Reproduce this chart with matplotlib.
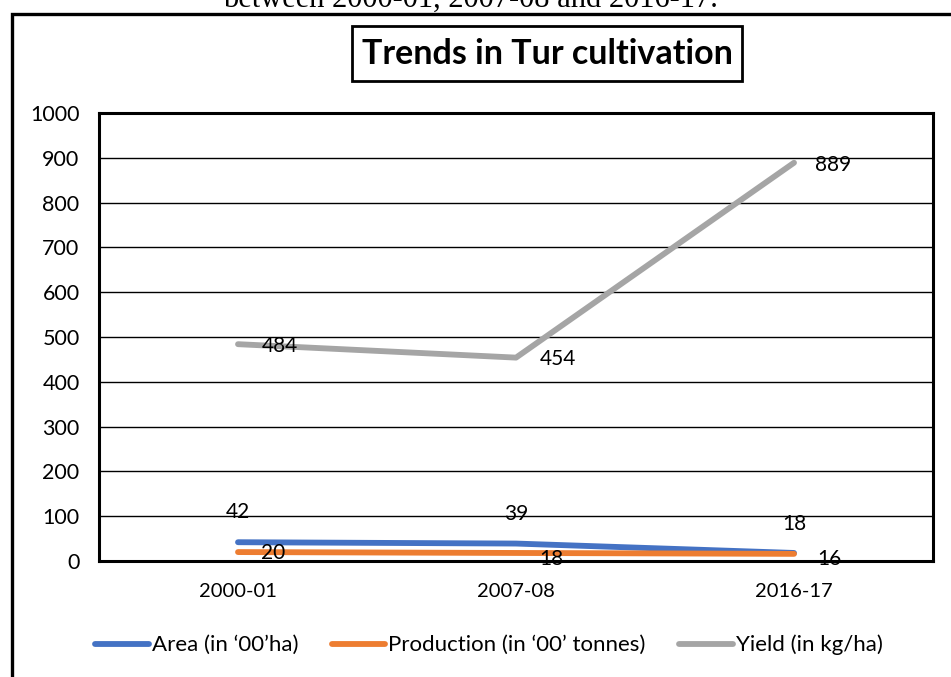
import matplotlib.pyplot as plt
from matplotlib.patches import Rectangle

plt.rcParams['font.family'] = ['Lato', 'DejaVu Sans']

# Tur cultivation figures for three survey years
years = ['2000-01', '2007-08', '2016-17']
area = [42, 39, 18]
production = [20, 18, 16]
yield_kg = [484, 454, 889]

series_names = ['Area (in \u201800\u2019ha)', 'Production (in \u201800\u2019 tonnes)', 'Yield (in kg/ha)']
colors = ['#4472C4', '#ED7D31', '#A5A5A5']

fig = plt.figure(figsize=(9.51, 6.77), dpi=100)
ax = fig.add_axes([0.1041, 0.1713, 0.8770, 0.6618])

x = range(len(years))
for vals, name, col in zip([area, production, yield_kg], series_names, colors):
    ax.plot(x, vals, color=col, lw=4.2, solid_capstyle='round', label=name, zorder=3)

# data labels (pixel offsets from each point)
area_off = [(0, 30), (0, 30), (0, 29)]
prod_off = [(35, -1), (35, -6), (35, -5)]
yield_off = [(42, -2), (42, -1), (39, -2)]
for vals, offs in [(area, area_off), (production, prod_off), (yield_kg, yield_off)]:
    for i, v in enumerate(vals):
        ax.annotate(str(v), (i, v), xytext=offs[i], textcoords='offset pixels',
                    ha='center', va='center', fontsize=15, color='black', zorder=4)

ax.set_xlim(-0.5, 2.5)
ax.set_ylim(0, 1000)
ax.set_yticks(range(0, 1001, 100))
ax.set_xticks(list(x))
ax.set_xticklabels(years)
ax.tick_params(axis='x', length=0, labelsize=14.5, pad=16)
ax.tick_params(axis='y', length=0, labelsize=15.5, pad=14)
ax.grid(axis='y', color='black', lw=1.0, zorder=1)
ax.set_axisbelow(True)
for s in ax.spines.values():
    s.set_linewidth(2.2)
    s.set_color('black')

ax.legend(loc='center', bbox_to_anchor=(489 / 951, 1 - 645 / 677), bbox_transform=fig.transFigure,
          ncol=3, frameon=False, fontsize=16, handlelength=2.4, handletextpad=0.15,
          columnspacing=1.5)

# outer frame, running off the right and bottom edges
fig.patches.append(Rectangle((12 / 951, -0.05), 1.05, 1.05 - 14 / 677,
                             transform=fig.transFigure, fill=False, ec='black', lw=2.4))

# boxed title
fig.patches.append(Rectangle((352 / 951, 1 - 81 / 677), 390 / 951, 55 / 677,
                             transform=fig.transFigure, fill=False, ec='black', lw=2.0))
fig.text(547 / 951, 1 - 54 / 677, 'Trends in Tur cultivation', ha='center', va='center',
         fontsize=24.5, fontweight='bold')

# caption line from the page above
fig.text(470 / 951, 1 - 7 / 677, 'between 2000-01, 2007-08 and 2016-17.', ha='center',
         va='baseline', fontsize=22, family='Liberation Serif')

fig.savefig('out.png', dpi=100)
